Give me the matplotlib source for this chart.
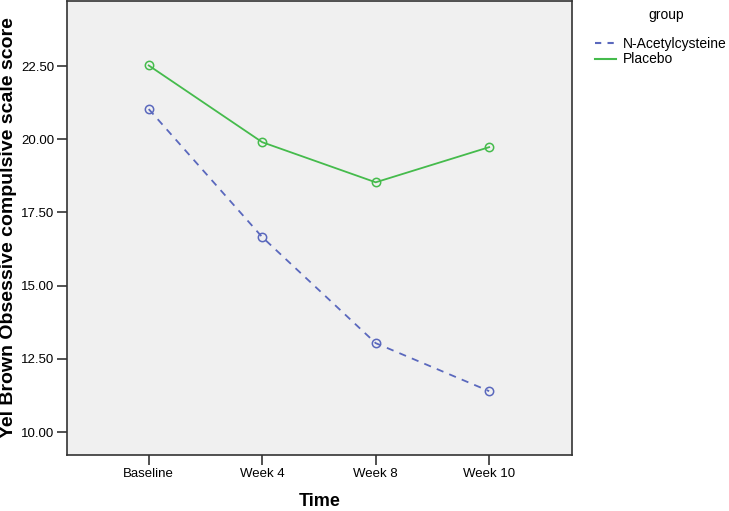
import numpy as np
import matplotlib.pyplot as plt
from matplotlib.lines import Line2D

times = ['Baseline', 'Week 4', 'Week 8', 'Week 10']
nac = [21.03, 16.66, 13.04, 11.40]
placebo = [22.52, 19.90, 18.53, 19.73]
yticks = [10.0, 12.5, 15.0, 17.5, 20.0, 22.5]

blue = '#5a68bd'
green = '#45bb4c'
W, H = 729, 511

fig = plt.figure(figsize=(7.29, 5.11), dpi=100)
ax = fig.add_axes([67 / W, 1 - 455 / H, (572 - 67) / W, (455 - 1) / H])
ax.set_facecolor('#f0f0f0')

idx = np.arange(len(times))
ax.plot(idx, nac, color=blue, linestyle=(0, (4, 3.5)), linewidth=1.3,
        marker='o', markersize=6, markerfacecolor='none', markeredgecolor=blue, markeredgewidth=1.1)
ax.plot(idx, placebo, color=green, linestyle='-', linewidth=1.3,
        marker='o', markersize=6, markerfacecolor='none', markeredgecolor=green, markeredgewidth=1.1)

ax.set_xlim(-0.72, 3.73)
ax.set_ylim(9.22, 24.72)
ax.set_xticks(idx)
ax.set_xticklabels(times, fontsize=9.5, family='Liberation Sans')
ax.set_yticks(yticks)
ax.set_yticklabels(['%.2f' % v for v in yticks], fontsize=9.5, family='Liberation Sans')
ax.tick_params(length=7, width=1.2, color='#333333', pad=2)
for s in ax.spines.values():
    s.set_color('#333333')
    s.set_linewidth(1.2)

# axis titles placed like the SPSS output
fig.text(320 / W, 1 - 501 / H, 'Time', fontsize=13, fontweight='bold',
         family='Liberation Sans', ha='center', va='center')
fig.text(9 / W, 1 - 228 / H, 'Yel Brown Obsessive compulsive scale score', fontsize=14,
         fontweight='bold', family='Liberation Sans', ha='center', va='center', rotation=90)

handles = [Line2D([], [], color=blue, linestyle=(0, (3, 3)), linewidth=1.5),
           Line2D([], [], color=green, linestyle='-', linewidth=1.5)]
leg = fig.legend(handles, ['N-Acetylcysteine', 'Placebo'],
                 loc='upper left', bbox_to_anchor=(595 / W, 1 - 37 / H),
                 frameon=False, fontsize=10, handlelength=1.5, borderpad=0,
                 handletextpad=0.5, labelspacing=0.1, borderaxespad=0)
for t in leg.get_texts():
    t.set_family('Liberation Sans')
fig.text(666 / W, 1 - 15 / H, 'group', fontsize=10, family='Liberation Sans',
         ha='center', va='center')

fig.savefig('out.png', dpi=100)
